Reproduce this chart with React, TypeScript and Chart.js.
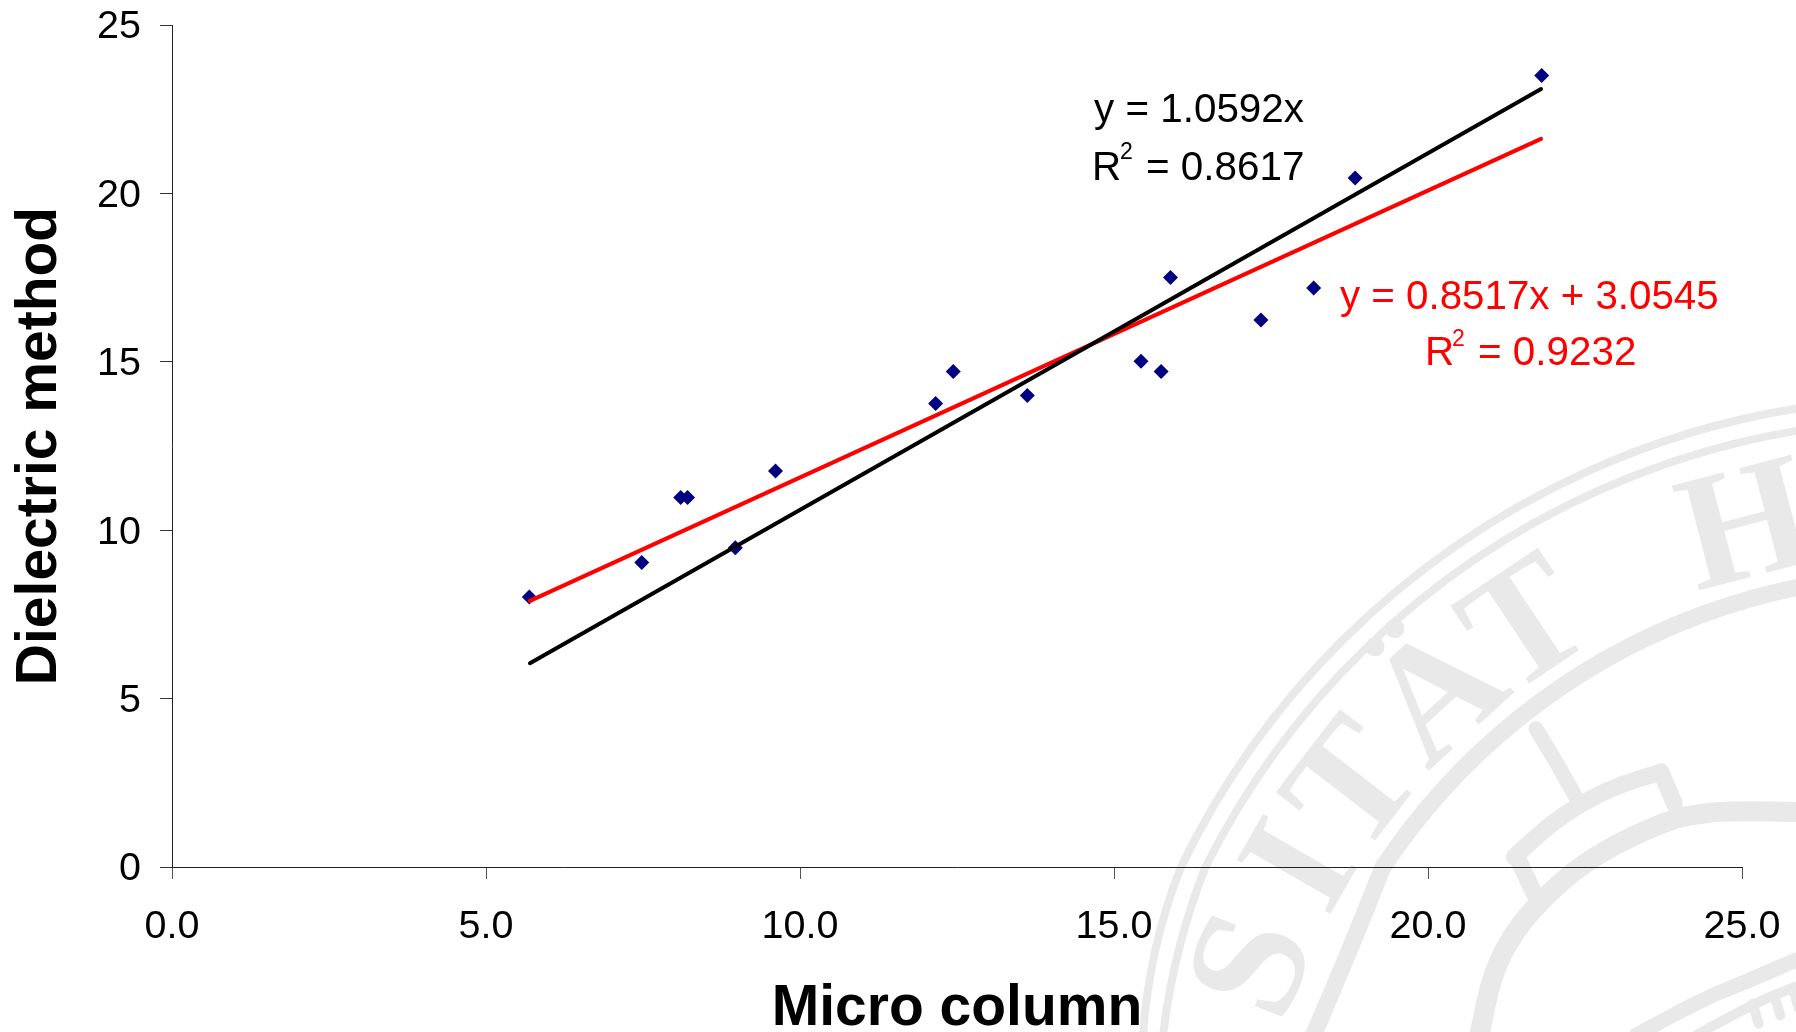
import React, { useEffect, useRef } from "react";
import { Chart, registerables } from "chart.js";

Chart.register(...registerables);

const microColumn = [5.69, 7.48, 8.1, 8.21, 8.97, 9.61, 12.16, 12.44, 13.62, 15.43, 15.75, 15.9, 17.34, 18.18, 18.84, 21.81];
const dielectric = [8.02, 9.04, 10.97, 10.97, 9.48, 11.76, 13.76, 14.71, 14.0, 15.02, 14.71, 17.5, 16.24, 17.19, 20.46, 23.5];
const fitX = [5.7, 21.8];
const blackFitY = [6.05, 23.1];
const redFitY = [7.9, 21.62];
const xTitle = "Micro column";
const yTitle = "Dielectric method";
const blackEq = ["y = 1.0592x", "R", "2", "= 0.8617"];
const redEq = ["y = 0.8517x + 3.0545", "R", "2", "= 0.9232"];
const sealLetters = ["S", "I", "T", "Ä", "T", "H"];
const sealAngles = [-68.7, -60, -52.4, -42.6, -33.7, -14.6];

const SANS = '"Liberation Sans", Arial, sans-serif';
const SEAL = "#e9e9e9";

const sealPlugin = {
  id: "seal",
  beforeDraw(chart: any) {
    const c = chart.ctx;
    const cx = 1929, cy = 1229;
    c.save();
    c.fillStyle = "#fff";
    c.fillRect(0, 0, 1796, 1032);
    c.strokeStyle = SEAL;
    c.fillStyle = SEAL;
    c.lineJoin = "round";
    c.lineCap = "round";
    const ring = (R: number, w: number, tx: number, ty: number) => {
      const a0 = -Math.PI + Math.atan2(cy - 868, Math.sqrt(R * R - (cy - 868) ** 2));
      c.lineWidth = w;
      c.beginPath();
      c.arc(cx, cy, R, a0, -1.3, false);
      c.stroke();
      const sx = cx + R * Math.cos(a0);
      c.beginPath();
      c.moveTo(sx, 868);
      c.quadraticCurveTo(sx - 32, 950, tx, ty);
      c.stroke();
    };
    ring(831, 8, 1143, 1036);
    ring(809, 8, 1163, 1036);
    ring(655, 17, 1313, 1036);
    const poly = (pts: number[][], w: number, smooth = false) => {
      const P = pts.map(([x, y]) => [1396 + x / 3, 732 + y / 3]);
      c.lineWidth = w;
      c.beginPath();
      c.moveTo(P[0][0], P[0][1]);
      for (let i = 1; i < P.length; i++) {
        if (smooth && i < P.length - 1) {
          c.quadraticCurveTo(P[i][0], P[i][1], (P[i][0] + P[i + 1][0]) / 2, (P[i][1] + P[i + 1][1]) / 2);
        } else {
          c.lineTo(P[i][0], P[i][1]);
        }
      }
      c.stroke();
    };
    poly([[420, -10], [480, 90], [545, 205]], 15);
    poly([[355, 375], [430, 305], [520, 235], [650, 165], [795, 120]], 17, true);
    poly([[795, 120], [835, 215]], 17);
    poly([[365, 380], [420, 495]], 17);
    poly([[1210, 240], [1000, 235], [880, 250], [830, 262], [700, 315], [560, 395], [450, 490], [360, 590], [290, 720], [250, 910]], 20, true);
    poly([[720, 910], [900, 810], [1060, 745], [1210, 680]], 15, true);
    poly([[900, 910], [1070, 815], [1210, 760]], 10, true);
    for (const [x, y] of [[1070, 815], [1135, 790], [1190, 768]]) {
      poly([[x, y], [x + 18, y + 60]], 10);
    }
    c.font = 'bold 165px "Liberation Serif", serif';
    c.textAlign = "center";
    c.textBaseline = "alphabetic";
    sealLetters.forEach((ch, i) => {
      c.save();
      c.translate(cx, cy);
      c.rotate((sealAngles[i] * Math.PI) / 180);
      c.fillText(ch, 0, -676);
      c.restore();
    });
    c.restore();
    // the reference's y labels sit slightly below their tick marks
    chart.scales.y.getLabelItems().forEach((item: any) => {
      if (!item.__moved) {
        item.textOffset += 2.5;
        item.__moved = true;
      }
    });
  },
};

const equationPlugin = {
  id: "equations",
  afterDatasetsDraw(chart: any) {
    const c = chart.ctx;
    const draw = (t: string, x: number, y: number, size: number, col: string) => {
      c.font = `${size}px ${SANS}`;
      c.fillStyle = col;
      c.fillText(t, x, y);
    };
    c.save();
    c.textAlign = "left";
    c.textBaseline = "alphabetic";
    draw(blackEq[0], 1094, 122, 40.4, "#000");
    draw(blackEq[1], 1092, 180, 40.4, "#000");
    draw(blackEq[2], 1120, 159, 23, "#000");
    draw(blackEq[3], 1146, 180, 40.4, "#000");
    draw(redEq[0], 1340, 309, 40.3, "#ff0000");
    draw(redEq[1], 1425, 365, 40.4, "#ff0000");
    draw(redEq[2], 1452, 346, 23, "#ff0000");
    draw(redEq[3], 1478, 365, 40.4, "#ff0000");
    c.restore();
  },
};

export default function App() {
  const ref = useRef<HTMLCanvasElement>(null);
  useEffect(() => {
    const chart = new Chart(ref.current as HTMLCanvasElement, {
      type: "scatter",
      data: {
        datasets: [
          {
            label: "Fit through origin",
            data: fitX.map((x, i) => ({ x, y: blackFitY[i] })),
            showLine: true,
            borderColor: "#000000",
            borderWidth: 4,
            pointRadius: 0,
            borderCapStyle: "round",
          },
          {
            label: "Linear fit",
            data: fitX.map((x, i) => ({ x, y: redFitY[i] })),
            showLine: true,
            borderColor: "#ff0000",
            borderWidth: 4,
            pointRadius: 0,
            borderCapStyle: "round",
          },
          {
            label: "Samples",
            data: microColumn.map((x, i) => ({ x, y: dielectric[i] })),
            pointStyle: "rectRot",
            pointRadius: 7.5,
            backgroundColor: "#000080",
            borderColor: "#000080",
            borderWidth: 0,
          },
        ],
      },
      options: {
        animation: false,
        responsive: false,
        devicePixelRatio: 1,
        layout: { padding: { top: 25, right: 54, left: 0, bottom: 0 } },
        plugins: { legend: { display: false }, tooltip: { enabled: false }, title: { display: false } },
        scales: {
          x: {
            type: "linear",
            min: 0,
            max: 25,
            afterFit: (s: any) => { s.height = 165; s.paddingLeft = 0; s.paddingRight = 0; },
            border: { color: "#222", width: 1 },
            grid: { drawOnChartArea: false, drawTicks: true, tickLength: 12, color: "#555", lineWidth: 1 },
            ticks: {
              stepSize: 5,
              padding: 24,
              color: "#000",
              maxRotation: 0,
              font: { family: SANS, size: 39.5 },
              callback: (v: any) => Number(v).toFixed(1),
            },
            title: {
              display: true,
              text: xTitle,
              color: "#000",
              padding: 0,
              font: { family: SANS, size: 57, weight: "bold", lineHeight: 0.8 },
            },
          },
          y: {
            type: "linear",
            min: 0,
            max: 25,
            afterFit: (s: any) => { s.width = 172; s.paddingTop = 0; s.paddingBottom = 0; },
            border: { color: "#222", width: 1 },
            grid: { drawOnChartArea: false, drawTicks: true, tickLength: 12, color: "#333", lineWidth: 1 },
            ticks: {
              stepSize: 5,
              padding: 19,
              color: "#000",
              font: { family: SANS, size: 39.5 },
            },
            title: {
              display: true,
              text: yTitle,
              color: "#000",
              padding: { top: 6, bottom: 0 },
              font: { family: SANS, size: 57, weight: "bold", lineHeight: 1.2 },
            },
          },
        },
      },
      plugins: [sealPlugin, equationPlugin],
    } as any);
    return () => chart.destroy();
  }, []);
  return (
    <canvas
      ref={ref}
      width={1796}
      height={1032}
      style={{ position: "absolute", left: 0, top: 0, display: "block" }}
    />
  );
}
